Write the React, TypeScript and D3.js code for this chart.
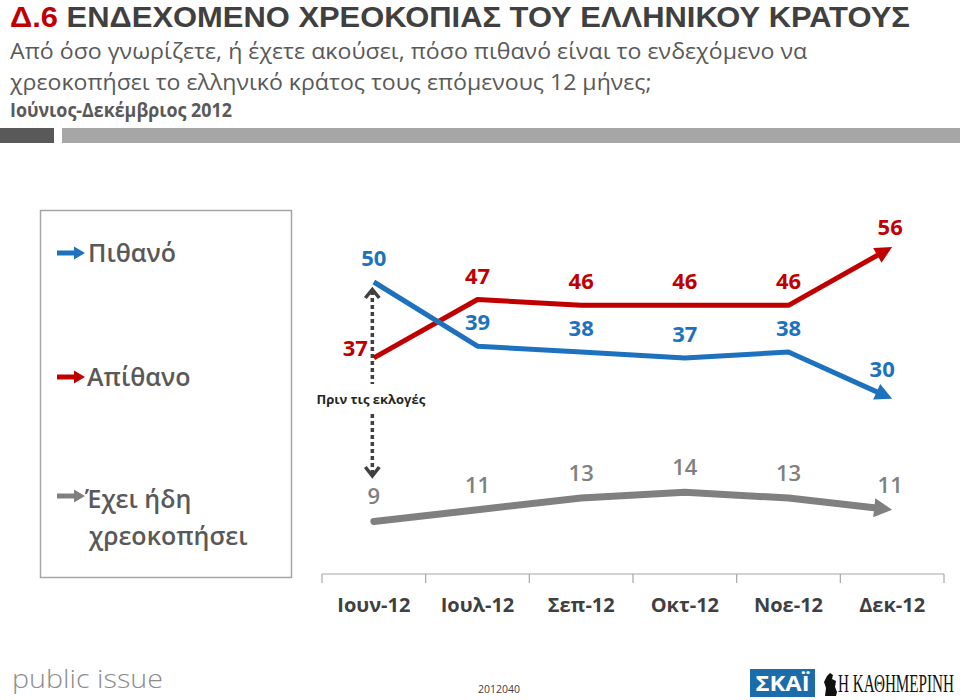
import React, { useLayoutEffect, useRef, useState } from "react";
import * as d3 from "d3";

const months = ["Ιουν-12", "Ιουλ-12", "Σεπ-12", "Οκτ-12", "Νοε-12", "Δεκ-12"];
const likely = [50, 39, 38, 37, 38, 30];
const unlikely = [37, 47, 46, 46, 46, 56];
const defaulted = [9, 11, 13, 14, 13, 11];

const legendLabels = ["Πιθανό", "Απίθανο", "Έχει ήδη", "χρεοκοπήσει"];
const titleCode = "Δ.6";
const titleText = " ΕΝΔΕΧΟΜΕΝΟ ΧΡΕΟΚΟΠΙΑΣ ΤΟΥ ΕΛΛΗΝΙΚΟΥ ΚΡΑΤΟΥΣ";
const subtitle1 = "Από όσο γνωρίζετε, ή έχετε ακούσει, πόσο πιθανό είναι το ενδεχόμενο να";
const subtitle2 = "χρεοκοπήσει το ελληνικό κράτος τους επόμενους 12 μήνες;";
const periodText = "Ιούνιος-Δεκέμβριος 2012";
const noteText = "Πριν τις εκλογές";
const codeText = "2012040";

const BLUE = "#1E72BD";
const RED = "#C00000";
const GRAY = "#808080";
const FONT = "'Open Sans', 'Noto Sans', 'DejaVu Sans', sans-serif";

const W = 960;
const H = 700;

const x = d3.scaleBand<string>().domain(months).range([322, 944]).padding(0);
const y = d3.scaleLinear().domain([0, 60]).range([574, 223.6]);
const cx = (m: string) => (x(m) as number) + x.bandwidth() / 2;

type Pt = [number, number];

function arrowSeries(values: number[], headLen: number, headHalf: number) {
  const pts: Pt[] = values.map((v, i) => [cx(months[i]), y(v)]);
  const tip = pts[pts.length - 1];
  const prev = pts[pts.length - 2];
  const dx = tip[0] - prev[0];
  const dy = tip[1] - prev[1];
  const len = Math.hypot(dx, dy);
  const ux = dx / len;
  const uy = dy / len;
  const base: Pt = [tip[0] - ux * headLen, tip[1] - uy * headLen];
  const linePts = [...pts.slice(0, -1), [base[0] + ux * 2, base[1] + uy * 2] as Pt];
  const px = -uy;
  const py = ux;
  const head = [
    tip,
    [base[0] + px * headHalf, base[1] + py * headHalf],
    [base[0] - px * headHalf, base[1] - py * headHalf],
  ];
  const path = d3.line<Pt>().x((d) => d[0]).y((d) => d[1])(linePts) || "";
  return { pts, path, head: head.map((p) => p.join(",")).join(" ") };
}

function FitText(props: {
  x: number;
  y: number;
  width: number;
  anchor?: "start" | "middle";
  children: React.ReactNode;
  [k: string]: any;
}) {
  const { x: tx, y: ty, width, anchor = "start", children, ...rest } = props;
  const ref = useRef<SVGTextElement>(null);
  const [s, setS] = useState(1);
  useLayoutEffect(() => {
    if (ref.current) {
      const w = ref.current.getComputedTextLength();
      if (w > 0) setS(width / w);
    }
  }, [width]);
  return (
    <g transform={`translate(${tx},${ty}) scale(${s},1)`}>
      <text ref={ref} x={0} y={0} textAnchor={anchor} {...rest}>
        {children}
      </text>
    </g>
  );
}

function LegendArrow({ x0, yy, color }: { x0: number; yy: number; color: string }) {
  return (
    <g>
      <line x1={x0} x2={x0 + 19} y1={yy} y2={yy} stroke={color} strokeWidth={5} />
      <polygon
        points={`${x0 + 28},${yy} ${x0 + 17},${yy - 6.5} ${x0 + 17},${yy + 6.5}`}
        fill={color}
      />
    </g>
  );
}

export default function App() {
  const blue = arrowSeries(likely, 17, 8.5);
  const red = arrowSeries(unlikely, 17, 8.5);
  const gray = arrowSeries(defaulted, 18, 9.5);
  const n = months.length;
  const x0 = cx(months[0]);
  const ticks = [...months.map((m) => x(m) as number), 944];

  return (
    <svg
      width={W}
      height={H}
      viewBox={`0 0 ${W} ${H}`}
      style={{ position: "absolute", left: 0, top: 0, background: "#fff" }}
      fontFamily={FONT}
    >
      <rect x={0} y={0} width={W} height={H} fill="#fff" />
      {/* Title */}
      <FitText
        x={10}
        y={26.5}
        width={900}
        fontSize={29}
        fontWeight={700}
        fontFamily="'Liberation Sans', Arial, sans-serif"
      >
        <tspan fill={RED}>{titleCode}</tspan>
        <tspan fill="#404040">{titleText}</tspan>
      </FitText>
      <FitText x={10} y={59} width={798} fontSize={22.5} fill="#595959">
        {subtitle1}
      </FitText>
      <FitText x={10} y={90} width={642} fontSize={22.5} fill="#595959">
        {subtitle2}
      </FitText>
      <FitText x={10} y={117} width={222} fontSize={19} fontWeight={700} fill="#595959">
        {periodText}
      </FitText>
      <rect x={0} y={128} width={54} height={15} fill="#595959" />
      <rect x={62} y={128} width={898} height={15} fill="#A6A6A6" />

      {/* Legend box */}
      <rect x={40.5} y={210.5} width={251} height={367} fill="#fff" stroke="#A6A6A6" strokeWidth={1.5} />
      <LegendArrow x0={57} yy={253} color={BLUE} />
      <text x={88} y={262} fontSize={25} fontWeight={600} fill="#595959">{legendLabels[0]}</text>
      <LegendArrow x0={57} yy={377} color={RED} />
      <text x={87} y={386} fontSize={25} fontWeight={600} fill="#595959">{legendLabels[1]}</text>
      <LegendArrow x0={57} yy={496} color={GRAY} />
      <text x={85} y={508} fontSize={25} fontWeight={600} fill="#595959">{legendLabels[2]}</text>
      <text x={89} y={545} fontSize={25} fontWeight={600} fill="#595959">{legendLabels[3]}</text>

      {/* X axis */}
      <line x1={322} x2={944} y1={574} y2={574} stroke="#A6A6A6" strokeWidth={1.2} />
      {ticks.map((t, i) => (
        <line key={i} x1={t} x2={t} y1={574} y2={583} stroke="#A6A6A6" strokeWidth={1.2} />
      ))}
      {months.map((m) => (
        <text key={m} x={cx(m)} y={612} textAnchor="middle" fontSize={20} fontWeight={700} fill="#404040">
          {m}
        </text>
      ))}

      {/* Dotted election marker */}
      <line x1={x0 - 1.5} x2={x0 - 1.5} y1={291} y2={384} stroke="#404040" strokeWidth={3.5} strokeDasharray="4 3" />
      <line x1={x0 - 1.5} x2={x0 - 1.5} y1={414} y2={474} stroke="#404040" strokeWidth={3.5} strokeDasharray="4 3" />
      <polyline points={`${x0 - 8.5},298 ${x0 - 1.5},289.5 ${x0 + 5.5},298`} fill="none" stroke="#404040" strokeWidth={3.5} />
      <polyline points={`${x0 - 8.5},467 ${x0 - 1.5},476 ${x0 + 5.5},467`} fill="none" stroke="#404040" strokeWidth={3.5} />
      <text x={x0 - 3} y={404} textAnchor="middle" fontSize={13} fontWeight={700} fill="#262626">
        {noteText}
      </text>

      {/* Lines */}
      <path d={gray.path} fill="none" stroke={GRAY} strokeWidth={7} strokeLinecap="round" strokeLinejoin="round" />
      <polygon points={gray.head} fill={GRAY} />
      <path d={red.path} fill="none" stroke={RED} strokeWidth={5} strokeLinejoin="round" />
      <polygon points={red.head} fill={RED} />
      <path d={blue.path} fill="none" stroke={BLUE} strokeWidth={5} strokeLinejoin="round" />
      <polygon points={blue.head} fill={BLUE} />

      {/* Value labels */}
      {likely.map((v, i) => {
        const last = i === n - 1;
        return (
          <text
            key={"b" + i}
            x={cx(months[i]) + (last ? -10 : 0)}
            y={y(v) - (last ? 22 : 16)}
            textAnchor="middle"
            fontSize={22}
            fontWeight={700}
            fill={BLUE}
          >
            {v}
          </text>
        );
      })}
      {unlikely.map((v, i) => {
        const first = i === 0;
        const last = i === n - 1;
        return (
          <text
            key={"r" + i}
            x={first ? cx(months[i]) - 6 : cx(months[i]) - (last ? 2 : 0)}
            y={first ? y(v) - 2 : y(v) - (last ? 12 : 16)}
            textAnchor={first ? "end" : "middle"}
            fontSize={22}
            fontWeight={700}
            fill={RED}
          >
            {v}
          </text>
        );
      })}
      {defaulted.map((v, i) => {
        const last = i === n - 1;
        return (
          <text
            key={"g" + i}
            x={cx(months[i]) - (last ? 2 : 0)}
            y={y(v) - 17}
            textAnchor="middle"
            fontSize={22}
            fontWeight={600}
            fill={GRAY}
          >
            {v}
          </text>
        );
      })}

      {/* Footer */}
      <FitText x={12} y={688} width={151} fontSize={26} fontWeight={300} fill="#8C8C8C">
        public issue
      </FitText>
      <text x={499} y={693} textAnchor="middle" fontSize={10.5} fill="#404040">
        {codeText}
      </text>
      <rect x={750} y={669} width={65} height={28} fill="#1B6CA8" />
      <FitText x={782.5} y={691} width={54} anchor="middle" fontSize={21} fontWeight={700} fill="#fff">
        ΣΚΑΪ
      </FitText>
      <path
        d="M825,696 L826,688 L824,682 L827,676 L830,673 L833,675 L832,679 L836,681 L835,687 L837,692 L836,696 Z"
        fill="#111"
      />
      <FitText
        x={838}
        y={692}
        width={116}
        fontSize={26}
        fontFamily="'Liberation Serif', 'DejaVu Serif', serif"
        fill="#111"
      >
        Η ΚΑΘΗΜΕΡΙΝΗ
      </FitText>
    </svg>
  );
}
